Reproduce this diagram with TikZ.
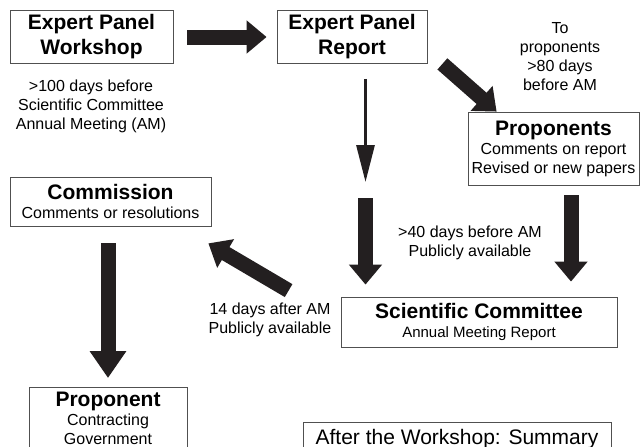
\documentclass[tikz,border=0pt]{standalone}
\usepackage{fontspec}
\setmainfont{Liberation Sans}
\usetikzlibrary{arrows.meta,positioning,calc}
\definecolor{Ink}{HTML}{231F20}
\definecolor{Edge}{HTML}{505050}
\newcommand{\boxtitle}{\fontsize{21}{25}\selectfont\bfseries}

\begin{document}
\begin{tikzpicture}[x=1pt,y=-1pt,
  stage/.style={draw=Edge,line width=0.8pt,align=center,inner sep=0pt,font=\fontsize{16}{19}\selectfont},
  note/.style={align=center,inner sep=0pt,font=\fontsize{16}{19}\selectfont},
  bigarrow/.style={-{Triangle[width=32pt,length=20pt]},line width=15pt,draw=Ink},
  thinarrow/.style={-{Triangle[width=18pt,length=37pt]},line width=3pt,draw=Ink}
]
\useasboundingbox (0,0) rectangle (640,447);
\node[stage,minimum width=163pt,minimum height=53pt,font=\boxtitle] (workshop) at (91.5,37) {Expert Panel\\Workshop};
\node[stage,minimum width=150pt,minimum height=53pt,font=\boxtitle] (report) at (352,37) {Expert Panel\\Report};
\node[stage,minimum width=171pt,minimum height=73pt] (proponents) at (553.5,148.5) {{\boxtitle Proponents}\\Comments on report\\Revised or new papers};
\node[stage,minimum width=201pt,minimum height=49pt] (commission) at (110.5,201.5) {{\boxtitle Commission}\\Comments or resolutions};
\node[stage,minimum width=276pt,minimum height=50pt] (scicomm) at (479,322) {{\boxtitle Scientific Committee}\\{\fontsize{15}{18}\selectfont Annual Meeting Report}};
\node[stage,minimum width=158pt,inner ysep=5pt,anchor=north] (gov) at (108,387) {{\boxtitle Proponent}\\Contracting\\Government\rule[-30pt]{0pt}{0pt}};
\node[stage,minimum width=308pt,inner ysep=7pt,anchor=north,font=\fontsize{21}{25}\selectfont] (summary) at (457,422) {After the Workshop: Summary\rule[-20pt]{0pt}{0pt}};

% timing notes
\node[note] (before) at (91,106) {>100 days before\\Scientific Committee\\Annual Meeting (AM)};
\node[note] (toprop) at (560,57) {To\\proponents\\>80 days\\before AM};
\node[note] (public) at (470,243) {>40 days before AM\\Publicly available};
\node[note] (after) at (270,320) {14 days after AM\\Publicly available};

% flow
\coordinate (gap) at (365.5,190);
\draw[bigarrow,shorten <=14pt,shorten >=10pt] (workshop) -- (report);
\draw[thinarrow,shorten <=15pt,shorten >=8pt] (report.south -| gap) -- (gap);
\draw[bigarrow,shorten <=8pt,shorten >=12pt] (gap) -- (gap |- scicomm.north);
\draw[bigarrow] ([xshift=15pt]report.south east) -- ([xshift=29pt]proponents.north west);
\draw[bigarrow,shorten <=10pt,shorten >=15pt] ([xshift=17.5pt]proponents.south) -- ([xshift=17.5pt]proponents.south |- scicomm.north);
\draw[bigarrow] ([shift={(-52pt,6pt)}]scicomm.north west) -- ([shift={(-3pt,-17pt)}]commission.south east);
\draw[bigarrow,-{Triangle[width=35pt,length=27pt]},shorten <=17pt,shorten >=9pt] (gov.north |- commission.south) -- (gov.north);
\end{tikzpicture}
\end{document}
